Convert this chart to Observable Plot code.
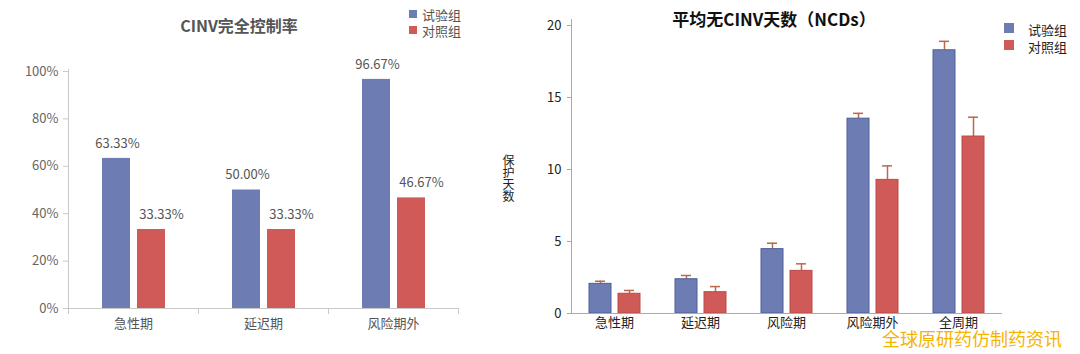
<!DOCTYPE html>
<html><head><meta charset="utf-8">
<script src="https://cdn.jsdelivr.net/npm/d3@7"></script>
<script src="https://cdn.jsdelivr.net/npm/@observablehq/plot@0.6"></script>
<style>
body{margin:0;background:#fff;font-family:"Noto Sans CJK SC","Noto Sans",sans-serif;}
#wrap{position:relative;width:1080px;height:354px;overflow:hidden;background:#fff;}
#wrap svg{position:absolute;top:0;}
.t{position:absolute;white-space:nowrap;line-height:1;}
.c{transform:translate(-50%,-50%);}
.m{transform:translateY(-50%);}
.sq{position:absolute;}
</style></head><body><div id="wrap"></div>
<script>
// ---------- data ----------
const groups = ["试验组", "对照组"];
const fills = ["#6d7cb3", "#cf5a57"];
const strokes2 = ["#4f5e9b", "#b94a47"];
const errColor = "#b96a48";

// Left: CINV完全控制率
const cats1 = ["急性期", "延迟期", "风险期外"];
const rateTrial = [0.6333, 0.5000, 0.9667];
const rateCtrl = [0.3333, 0.3333, 0.4667];
const yTicks1 = [0, 0.2, 0.4, 0.6, 0.8, 1.0];

// Right: 平均无CINV天数（NCDs）
const cats2 = ["急性期", "延迟期", "风险期", "风险期外", "全周期"];
const ncdTrial = [2.06, 2.38, 4.47, 13.53, 18.28];
const ncdTrialUpper = [2.24, 2.64, 4.88, 13.90, 18.90];
const ncdCtrl = [1.37, 1.48, 2.96, 9.28, 12.29];
const ncdCtrlUpper = [1.60, 1.87, 3.45, 10.25, 13.63];
const yTicks2 = [0, 5, 10, 15, 20];
const yLabel2 = "保护天数";

// ---------- tables ----------
const rows1 = cats1.flatMap((c, i) => [
  {cat: c, grp: groups[0], v: rateTrial[i], fill: fills[0]},
  {cat: c, grp: groups[1], v: rateCtrl[i], fill: fills[1]}
]);
const rows2 = cats2.flatMap((c, i) => [
  {cat: c, grp: groups[0], v: ncdTrial[i], e: ncdTrialUpper[i], fill: fills[0], stroke: strokes2[0]},
  {cat: c, grp: groups[1], v: ncdCtrl[i], e: ncdCtrlUpper[i], fill: fills[1], stroke: strokes2[1]}
]);

const font = '"Noto Sans CJK SC","Noto Sans",sans-serif';
const wrap = document.getElementById("wrap");
const pct = d => (d.v * 100).toFixed(2) + "%";

// ---------- left chart ----------
const W1 = 480, H1 = 354, mt1 = 71, mb1 = 46, ml1 = 67, mr1 = 22;
const fh1 = H1 - mt1 - mb1;
const p1 = Plot.plot({
  width: W1, height: H1,
  marginTop: mt1, marginBottom: mb1, marginLeft: ml1, marginRight: mr1,
  style: {fontFamily: font, fontSize: "13px", background: "transparent", overflow: "visible"},
  fx: {domain: cats1, paddingInner: 0, paddingOuter: 0, label: null},
  x: {domain: groups, paddingInner: 0.2, paddingOuter: 0.957, axis: null},
  y: {domain: [0, 1], label: null},
  color: {type: "identity"},
  marks: [
    Plot.barY(rows1, {fx: "cat", x: "grp", y: "v", fill: "fill"}),
    Plot.text(rows1.filter(d => d.grp === groups[0]), {fx: "cat", x: "grp", y: "v", text: pct,
      dy: -15, dx: 1, fill: "#555", fontSize: 13}),
    Plot.text(rows1.filter(d => d.grp === groups[1]), {fx: "cat", x: "grp", y: "v", text: pct,
      dy: -15, dx: 10, fill: "#555", fontSize: 13}),
    Plot.axisY({ticks: yTicks1, tickFormat: d => Math.round(d * 100) + "%", tickSize: 5, tickPadding: 5,
      stroke: "#c8c8c8", fill: "#666", label: null, fontSize: 13}),
    Plot.axisFx({anchor: "bottom", tickSize: 0, tickPadding: 10, fill: "#555", label: null, fontSize: 13}),
    Plot.frame({anchor: "left", facet: "super", stroke: "#c8c8c8", insetTop: -2}),
    Plot.frame({anchor: "bottom", facet: "super", stroke: "#c8c8c8"}),
    Plot.frame({anchor: "left", stroke: "#c8c8c8", insetTop: fh1, insetBottom: -5}),
    Plot.frame({anchor: "right", stroke: "#c8c8c8", insetTop: fh1, insetBottom: -5})
  ]
});
p1.style.left = "0px";
wrap.appendChild(p1);

// ---------- right chart ----------
const W2 = 600, H2 = 354, mt2 = 25, mb2 = 41, ml2 = 77, mr2 = 21;
const p2 = Plot.plot({
  width: W2, height: H2,
  marginTop: mt2, marginBottom: mb2, marginLeft: ml2, marginRight: mr2,
  style: {fontFamily: font, fontSize: "13px", background: "transparent", overflow: "visible"},
  fx: {domain: cats2, paddingInner: 0, paddingOuter: 0.402, align: 0.19, label: null},
  x: {domain: groups, paddingInner: 0.25, paddingOuter: 0.567, axis: null},
  y: {domain: [0, 20], label: null},
  color: {type: "identity"},
  marks: [
    Plot.ruleX(rows2, {fx: "cat", x: "grp", y1: "v", y2: "e", stroke: errColor, strokeWidth: 1.5}),
    Plot.tickY(rows2, {fx: "cat", x: "grp", y: "e", stroke: errColor, strokeWidth: 1.5, insetLeft: 6, insetRight: 6}),
    Plot.barY(rows2, {fx: "cat", x: "grp", y: "v", fill: "fill", stroke: "stroke", strokeWidth: 1}),
    Plot.axisY({ticks: yTicks2, tickSize: 4, tickPadding: 6, stroke: "#aaa", fill: "#222", label: null, fontSize: 13}),
    Plot.axisFx({anchor: "bottom", tickSize: 0, tickPadding: 4, fill: "#222", label: null, fontSize: 13}),
    Plot.frame({anchor: "left", facet: "super", stroke: "#aaa", insetTop: -6}),
    Plot.frame({anchor: "bottom", facet: "super", stroke: "#aaa"})
  ]
});
p2.style.left = "480px";
wrap.appendChild(p2);

// ---------- titles, legends, labels ----------
function addText(txt, x, y, cls, css) {
  const d = document.createElement("div");
  d.className = "t " + cls;
  d.textContent = txt;
  d.style.left = x + "px"; d.style.top = y + "px";
  Object.assign(d.style, css || {});
  wrap.appendChild(d);
  return d;
}
function addSq(x, y, s, color) {
  const d = document.createElement("div");
  d.className = "sq";
  Object.assign(d.style, {left: x + "px", top: (y - s / 2) + "px", width: s + "px", height: s + "px", background: color});
  wrap.appendChild(d);
}

addText("CINV完全控制率", 239, 25, "c", {fontSize: "16px", fontWeight: "bold", color: "#555"});
groups.forEach((g, i) => {
  addSq(409, 14 + i * 16, 8, fills[i]);
  addText(g, 422, 14 + i * 16, "m", {fontSize: "13px", color: "#555"});
});

addText("平均无CINV天数（NCDs）", 774, 18, "c", {fontSize: "17px", fontWeight: "bold", color: "#111"});
groups.forEach((g, i) => {
  addSq(1004, 28 + i * 17, 10, fills[i]);
  addText(g, 1028, 29 + i * 17, "m", {fontSize: "13px", color: "#222"});
});

// vertical stacked axis label (one text, upright characters)
addText(yLabel2, 508, 178, "c", {fontSize: "12px", color: "#222",
  writingMode: "vertical-rl", textOrientation: "upright", letterSpacing: "0px"});

addText("全球原研药仿制药资讯", 882, 338, "m", {fontSize: "18px", color: "#f4b400",
  textShadow: "0 0 2px #fff, 0 0 2px #fff"});
</script>
</body></html>
